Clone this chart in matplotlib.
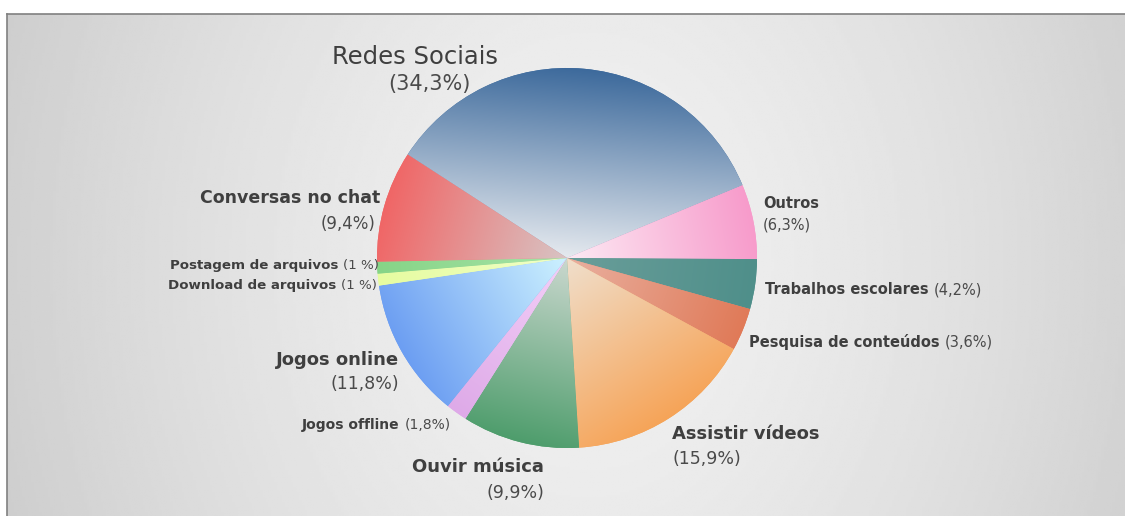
import numpy as np
import matplotlib.pyplot as plt
from matplotlib.colors import to_rgb

labels = ['Redes Sociais', 'Outros', 'Trabalhos escolares', 'Pesquisa de conteúdos',
          'Assistir vídeos', 'Ouvir música', 'Jogos offline', 'Jogos online',
          'Download de arquivos', 'Postagem de arquivos', 'Conversas no chat']
values = [34.3, 6.3, 4.2, 3.6, 15.9, 9.9, 1.8, 11.8, 1.0, 1.0, 9.4]
pct_text = ['(34,3%)', '(6,3%)', '(4,2%)', '(3,6%)', '(15,9%)', '(9,9%)',
            '(1,8%)', '(11,8%)', '(1 %)', '(1 %)', '(9,4%)']

# rim colour / centre colour of each slice gradient
outer = ['#3d6a9c', '#f79bcb', '#4f8f8a', '#e07a58', '#f6a458', '#4e9d6c',
         '#deaae8', '#6c9ef2', '#e6fca0', '#86d487', '#f06666']
inner = ['#e6eaef', '#fdeaf4', '#6a9e9a', '#e9b0a0', '#f0dfcc', '#cbd8cf',
         '#f4d0f8', '#cdf2ff', '#f0ffc8', '#a8e4a8', '#d8c4c4']

W, H = 1125, 516
cx, cy, R = 567, 258, 190
dark = '#3f3f3f'

fig = plt.figure(figsize=(W / 100, H / 100), dpi=100)
fig.patch.set_facecolor('white')

# background panel with soft radial shading
bg = fig.add_axes([7 / W, 0, 1 - 7 / W, (H - 14) / H])
yy, xx = np.mgrid[0:1:200j, 0:1:400j]
d = np.sqrt(((xx - 0.52) / 0.5) ** 2 + ((yy - 0.5) / 1.4) ** 2)
shade = 0.945 - 0.12 * np.clip(d, 0, 1.2) ** 1.5
bg.imshow(shade, cmap='gray', vmin=0, vmax=1, aspect='auto', extent=(0, 1, 0, 1))
bg.set_xticks([])
bg.set_yticks([])
for s in ['right', 'bottom']:
    bg.spines[s].set_visible(False)
for s in ['top', 'left']:
    bg.spines[s].set_color('#808080')
    bg.spines[s].set_linewidth(1.2)

ax = fig.add_axes([0, 0, 1, 1])
ax.set_xlim(0, W)
ax.set_ylim(0, H)
ax.axis('off')
ax.patch.set_alpha(0)

wedges, _ = ax.pie(values, startangle=147, counterclock=False, center=(cx, cy),
                   radius=R, colors=outer, wedgeprops=dict(linewidth=0))
ax.set_xlim(0, W)
ax.set_ylim(0, H)
ax.set_aspect('equal')

gy, gx = np.mgrid[cy - R:cy + R:400j, cx - R:cx + R:400j]
for w, co, ci in zip(wedges, outer, inner):
    mid = np.deg2rad((w.theta1 + w.theta2) / 2)
    t = ((gx - cx) * np.cos(mid) + (gy - cy) * np.sin(mid)) / R
    t = np.clip(t, 0, 1)[..., None]
    img = np.array(to_rgb(ci)) + (np.array(to_rgb(co)) - np.array(to_rgb(ci))) * t
    im = ax.imshow(img, origin='lower', extent=(cx - R, cx + R, cy - R, cy + R),
                   interpolation='bilinear', zorder=2)
    im.set_clip_path(w)


def txt(x, y, s, ha='left', size=12, weight='bold', color=dark):
    return ax.text(x, H - y, s, ha=ha, va='center', fontsize=size,
                   fontweight=weight, color=color, zorder=5)


def inline(x, y, name, pct, size):
    t = txt(x, y, name + ' ', size=size)
    fig.canvas.draw()
    bb = t.get_window_extent()
    txt(bb.x1, y, pct, size=size, weight='normal', color='#4a4a4a')


# two-line labels: (name x, name y, name ha, pct x, pct y, pct ha, size, pct size, weight)
two = {
    'Redes Sociais': (415, 57, 'center', 471, 84, 'right', 17.5, 15, 'normal'),
    'Conversas no chat': (380, 198, 'right', 376, 224, 'right', 12.5, 12, 'bold'),
    'Jogos online': (399, 360, 'right', 399, 384, 'right', 13, 12.5, 'bold'),
    'Ouvir música': (544, 467, 'right', 544, 493, 'right', 13, 12.5, 'bold'),
    'Assistir vídeos': (672, 434, 'left', 672, 459, 'left', 13, 12.5, 'bold'),
    'Outros': (763, 203, 'left', 763, 225, 'left', 10.5, 10.5, 'bold'),
}
# one-line labels: (x, y, size)
one = {
    'Postagem de arquivos': (170, 265, 9.6),
    'Download de arquivos': (168, 286, 9.6),
    'Jogos offline': (302, 425, 10),
    'Trabalhos escolares': (765, 290, 10.5),
    'Pesquisa de conteúdos': (749, 342, 10.5),
}

for name, pct in zip(labels, pct_text):
    if name in two:
        nx, ny, nha, px, py, pha, sz, psz, wt = two[name]
        txt(nx, ny, name, ha=nha, size=sz, weight=wt)
        txt(px, py, pct, ha=pha, size=psz, weight='normal', color='#4a4a4a')
    else:
        x, y, sz = one[name]
        inline(x, y, name, pct, sz)

fig.savefig('out.png', dpi=100)
